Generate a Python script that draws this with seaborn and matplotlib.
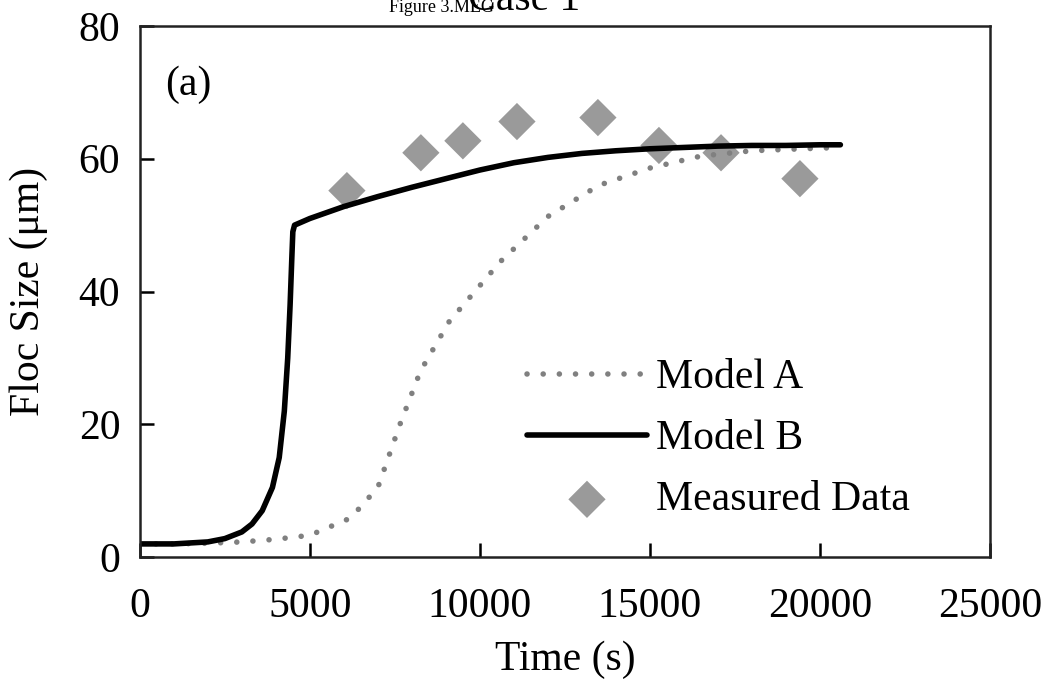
import matplotlib
matplotlib.use("Agg")
import matplotlib.pyplot as plt
import seaborn as sns

# Model A (dotted)
t_a = [0, 1000, 2000, 3000, 4000, 5000, 6200, 7000, 7650, 8250, 9100, 10600,
       12000, 13500, 15000, 16500, 18000, 19500, 20600]
y_a = [2.0, 2.0, 2.1, 2.3, 2.7, 3.3, 5.9, 10.5, 20.0, 28.0, 35.5, 44.5,
       51.3, 56.0, 58.6, 60.4, 61.2, 61.5, 61.7]

# Model B (solid)
t_b = [0, 1000, 2000, 2500, 3000, 3300, 3600, 3900, 4100, 4250, 4350, 4420,
       4470, 4500, 4550, 5000, 6000, 7000, 8000, 9000, 10000, 11000, 12000,
       13000, 14000, 15000, 16000, 17000, 18000, 19000, 20000, 20600]
y_b = [2.0, 2.0, 2.3, 2.8, 3.8, 5.0, 7.0, 10.5, 15.0, 22.0, 30.0, 38.0,
       45.0, 49.0, 50.0, 51.0, 52.8, 54.3, 55.7, 57.0, 58.3, 59.4, 60.2,
       60.8, 61.2, 61.5, 61.7, 61.9, 62.0, 62.0, 62.1, 62.1]

# measured points
t_m = [6090, 8265, 9500, 11090, 13470, 15265, 17090, 19410]
y_m = [55.2, 60.9, 62.7, 65.6, 66.2, 62.0, 60.9, 57.0]

sns.set_style("ticks")
plt.rcParams['font.family'] = ['Liberation Serif', 'DejaVu Serif']
plt.rcParams['text.color'] = 'black'
plt.rcParams['axes.labelcolor'] = 'black'
plt.rcParams['xtick.color'] = 'black'
plt.rcParams['ytick.color'] = 'black'

fig = plt.figure(figsize=(10.51, 6.82), dpi=100)
ax = fig.add_axes([0.133, 0.183, 0.809, 0.779])

sns.lineplot(x=t_a, y=y_a, ax=ax, color='#808080', lw=4.0, sort=False,
             linestyle=(0, (0.01, 2.9)), dash_capstyle='round', label='Model A')
sns.lineplot(x=t_b, y=y_b, ax=ax, color='black', lw=4.0, sort=False,
             label='Model B')
sns.scatterplot(x=t_m, y=y_m, ax=ax, color='#9a9a9a', marker='D', s=360,
                edgecolor='none', label='Measured Data')

ax.set_xlim(0, 25000)
ax.set_ylim(0, 80)
ax.set_xticks([0, 5000, 10000, 15000, 20000, 25000])
ax.set_yticks([0, 20, 40, 60, 80])
ax.tick_params(direction='in', length=10, width=1.8, labelsize=30, pad=14)
ax.tick_params(axis='x', pad=22)
for s in ax.spines.values():
    s.set_linewidth(1.8)
    s.set_color('#222222')

ax.set_xlabel('Time (s)', fontsize=30, labelpad=10)
ax.set_ylabel('Floc Size (μm)', fontsize=30, labelpad=22)

ax.text(0.03, 0.87, '(a)', transform=ax.transAxes, fontsize=30)

ax.legend(loc='lower right', bbox_to_anchor=(0.925, 0.04), frameon=False,
          fontsize=30, handlelength=2.9, handletextpad=0.2, labelspacing=0.54,
          borderaxespad=0)

fig.text(0.37, 0.982, 'Figure 3.MEG', fontsize=13)
fig.text(0.445, 0.985, 'Case 1', fontsize=30)

fig.savefig('out.png', dpi=100)
